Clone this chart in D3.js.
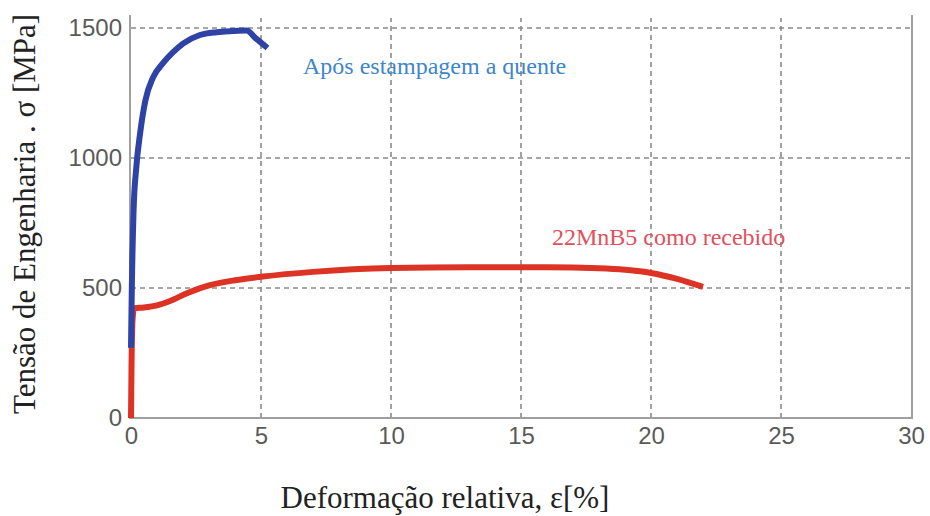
<!DOCTYPE html>
<html>
<head>
<meta charset="utf-8">
<script src="https://cdn.jsdelivr.net/npm/d3@7"></script>
<style>
  body { margin: 0; background: #fff; }
  .grid line { stroke: #8a8a8a; stroke-width: 1.6; stroke-dasharray: 5,4; }
  .tick text { font-family: "Liberation Sans", Arial, sans-serif; font-size: 24px; fill: #5a5a5a; }
</style>
</head>
<body>
<script>
const width = 930;
const height = 516;

// strain [%] and stress [MPa]
const hotStrain = [0.0, 0.03, 0.1, 0.2, 0.35, 0.55, 0.85, 1.23, 1.6, 2.0, 2.65, 3.3, 3.9, 4.45, 4.8, 5.25];
const hotStress = [270, 490, 800, 960, 1095, 1220, 1310, 1365, 1405, 1440, 1473, 1484, 1488, 1490, 1460, 1423];

const rawStrain = [0.0, 0.02, 0.06, 0.12, 0.5, 1.0, 1.5, 2.2, 3.0, 4.0, 5.0, 7.0, 10.0, 13.0, 16.0, 18.0, 19.0, 20.0, 21.0, 22.0];
const rawStress = [0, 200, 380, 422, 425, 433, 450, 482, 510, 530, 543, 562, 577, 580, 580, 576, 570, 558, 535, 504];

const xTicks = [0, 5, 10, 15, 20, 25, 30];
const yTicks = [0, 500, 1000, 1500];

const svg = d3.select('body').append('svg')
  .attr('width', width)
  .attr('height', height);

const x = d3.scaleLinear().domain([0, 30]).range([131, 911]);
const y = d3.scaleLinear().domain([0, 1500]).range([418, 28]);

// grid
const grid = svg.append('g').attr('class', 'grid');
grid.selectAll('.vx')
  .data(xTicks.filter(d => d > 0 && d < 30))
  .enter().append('line')
  .attr('x1', d => x(d)).attr('x2', d => x(d))
  .attr('y1', 418).attr('y2', 18);
grid.selectAll('.hy')
  .data(yTicks.filter(d => d > 0))
  .enter().append('line')
  .attr('x1', 131).attr('x2', 911)
  .attr('y1', d => y(d)).attr('y2', d => y(d));

// frame (left, bottom, right)
svg.append('path')
  .attr('d', 'M130,15V418H912V15')
  .attr('fill', 'none')
  .attr('stroke', '#a0a0a0')
  .attr('stroke-width', 2);

// axes labels
const xAxis = svg.append('g')
  .attr('transform', 'translate(0,424)')
  .call(d3.axisBottom(x).tickValues(xTicks).tickSize(0).tickPadding(3).tickFormat(d3.format('d')));
xAxis.select('.domain').remove();

const yAxis = svg.append('g')
  .attr('transform', 'translate(122,0)')
  .call(d3.axisLeft(y).tickValues(yTicks).tickSize(0).tickPadding(0).tickFormat(d3.format('d')));
yAxis.select('.domain').remove();

// curves
const line = (xs, ys) => d3.line()
  .x((d, i) => x(xs[i]))
  .y((d, i) => y(ys[i]))
  .curve(d3.curveMonotoneX)(xs);

svg.append('path')
  .attr('d', line(rawStrain, rawStress))
  .attr('fill', 'none')
  .attr('stroke', '#dc3325')
  .attr('stroke-width', 6)
  .attr('stroke-linejoin', 'round');

svg.append('path')
  .attr('d', line(hotStrain, hotStress))
  .attr('fill', 'none')
  .attr('stroke', '#2f43a6')
  .attr('stroke-width', 6)
  .attr('stroke-linejoin', 'round');

// annotations
svg.append('text')
  .attr('x', 303).attr('y', 74)
  .attr('font-family', '"Liberation Serif", "Times New Roman", serif')
  .attr('font-size', 24)
  .attr('fill', '#3d85cc')
  .text('Após estampagem a quente');

svg.append('text')
  .attr('x', 552).attr('y', 245)
  .attr('font-family', '"Liberation Serif", "Times New Roman", serif')
  .attr('font-size', 24)
  .attr('fill', '#e2505c')
  .text('22MnB5 como recebido');

// axis titles
svg.append('text')
  .attr('x', 445).attr('y', 508)
  .attr('text-anchor', 'middle')
  .attr('font-family', '"Liberation Serif", "Times New Roman", serif')
  .attr('font-size', 31)
  .attr('fill', '#222')
  .text('Deformação relativa, ε[%]');

svg.append('text')
  .attr('transform', 'translate(35,214) rotate(-90)')
  .attr('text-anchor', 'middle')
  .attr('font-family', '"Liberation Serif", "Times New Roman", serif')
  .attr('font-size', 31)
  .attr('fill', '#222')
  .text('Tensão de Engenharia . σ [MPa]');
</script>
</body>
</html>
